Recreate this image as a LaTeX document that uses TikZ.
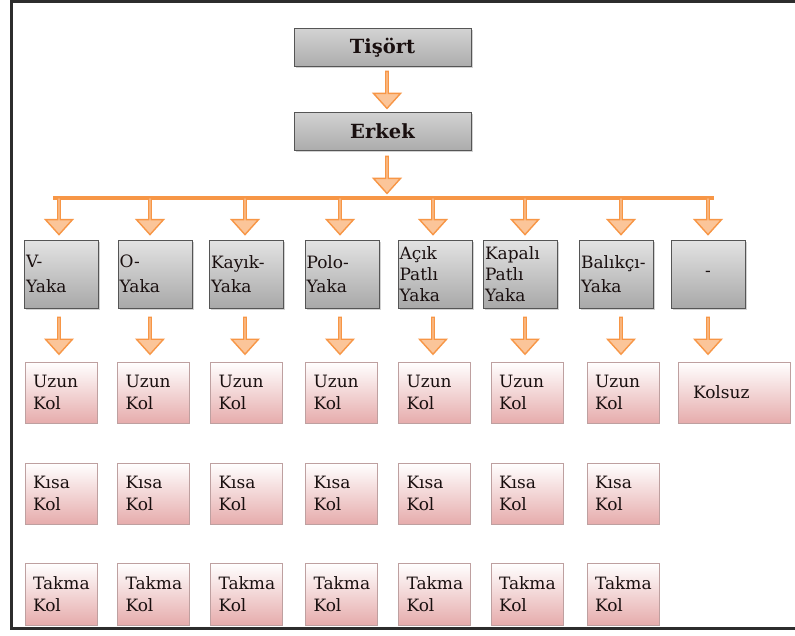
\documentclass[tikz,border=0pt]{standalone}
\usepackage{fontspec}
\setmainfont{DejaVu Serif}
\newfontfamily\boxfont{DejaVu Serif}
\usetikzlibrary{shapes.arrows,shadows,calc}
\definecolor{arrorange}{RGB}{247,150,70}
\definecolor{pinkbot}{RGB}{230,172,172}
\definecolor{pinkline}{RGB}{190,160,160}
\definecolor{grayline}{RGB}{85,85,85}
\definecolor{frameline}{RGB}{45,45,45}
\definecolor{txt}{RGB}{25,15,15}
\tikzset{
  boxshadow/.style={drop shadow={shadow xshift=1.5pt, shadow yshift=-1.5pt, opacity=0.35}},
  topbox/.style={draw=grayline, line width=1pt, top color=gray!35, middle color=white, bottom color=gray!65,
    minimum width=177pt, minimum height=38pt, inner sep=0pt, boxshadow, text=txt,
    font=\boxfont\fontsize{19.5}{22}\selectfont\bfseries},
  yakabox/.style={draw=grayline, line width=1pt, top color=gray!22, middle color=gray!6, bottom color=gray!68,
    minimum width=74pt, minimum height=68pt, text width=71pt, inner xsep=1.5pt, inner ysep=0pt,
    align=left, boxshadow, text=txt, font=\boxfont\fontsize{17}{24.5}\selectfont},
  yakathree/.style={yakabox, font=\boxfont\fontsize{17}{21}\selectfont},
  kolbox/.style={draw=pinkline, line width=0.8pt, top color=white, bottom color=pinkbot,
    minimum width=72pt, minimum height=61pt, text width=56pt, inner xsep=8pt, inner ysep=0pt, align=left, text=txt,
    font=\boxfont\fontsize{17}{22.5}\selectfont},
  blockarrow/.style={single arrow, shape border rotate=270, draw=arrorange, line width=1.4pt,
    left color=arrorange!55, middle color=yellow!4, right color=arrorange!55,
    minimum height=37pt, minimum width=27pt, single arrow head extend=7pt,
    single arrow tip angle=84, inner sep=0pt},
  barline/.style={draw=arrorange, line width=4pt},
  frame/.style={draw=frameline, line width=2.6pt}
}
\begin{document}
\begin{tikzpicture}[x=1pt,y=-1pt]
\useasboundingbox (0,0) rectangle (795,635);
\fill[white] (0,0) rectangle (795,635);
% frame
\coordinate (f1) at (795,1.3);
\coordinate (f2) at (11.3,1.3);
\coordinate (f3) at (11.3,628.7);
\coordinate (f4) at (795,628.7);
\draw[frame] (f1) -- (f2) -- (f3) -- (f4);

% top boxes
\node[topbox] (t1) at (382.5,47.5) {Tişört};
\node[topbox] (t2) at (382.5,131) {Erkek};

% collar boxes
\node[yakabox]   (g1) at (61.5,274) {V-\\Yaka};
\node[yakabox]   (g2) at (155,274) {O-\\Yaka};
\node[yakabox]   (g3) at (246.5,274) {Kayık-\\Yaka};
\node[yakabox]   (g4) at (342,274) {Polo-\\Yaka};
\node[yakathree] (g5) at (435,274) {Açık\\Patlı\\Yaka};
\node[yakathree] (g6) at (520.5,274) {Kapalı\\Patlı\\Yaka};
\node[yakabox]   (g7) at (616.5,274) {Balıkçı-\\Yaka};
\node[yakabox, align=center] (g8) at (708,274) {-};

% sleeve boxes
\foreach \i/\x in {1/61,2/153.5,3/246.5,4/341.5,5/434.5,6/527,7/623}{
  \node[kolbox] (u\i) at (\x,392.5) {Uzun\\Kol};
  \node[kolbox] (k\i) at (\x,493.5) {Kısa\\Kol};
  \node[kolbox, minimum height=62pt] (m\i) at (\x,594) {Takma\\Kol};
}
\node[kolbox, minimum width=112pt, text width=82pt, inner xsep=15pt] (u8) at (734,392.5) {Kolsuz};

% bar coordinates
\coordinate (bE) at (387,198);
\foreach \i/\x in {1/59,2/150,3/245,4/340,5/433,6/525,7/621,8/708}{
  \coordinate (b\i) at (\x,198);
}
\draw[barline] ($(b1)+(-6,0)$) -- ($(b8)+(6,0)$);

% arrows
\node[blockarrow] at ($($(t1.south)!0.5!(t2.north)$)+(4.5,0)$) {};
\node[blockarrow] at ($(bE|-t2.south)!0.5!(bE)$) {};
\foreach \i in {1,...,8}{
  \node[blockarrow] at ($(b\i)!0.42!(b\i|-g\i.north)$) {};
  \node[blockarrow] at ($(b\i|-g\i.south)!0.5!(b\i|-u\i.north)$) {};
}
\end{tikzpicture}
\end{document}
